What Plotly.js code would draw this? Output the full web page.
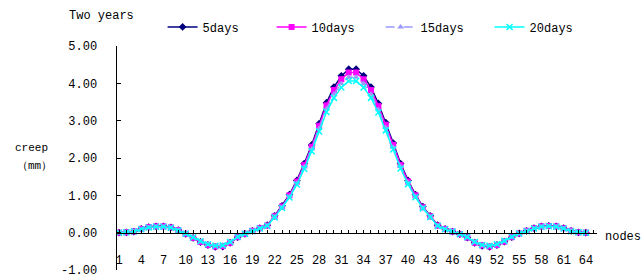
<!DOCTYPE html>
<html>
<head>
<meta charset="utf-8">
<script src="https://cdn.plot.ly/plotly-3.0.1.min.js"></script>
<style>
html,body{margin:0;padding:0;background:#fff;}
#chart{width:643px;height:280px;}
</style>
</head>
<body>
<div id="chart"></div>
<script>
const nodes = [1,2,3,4,5,6,7,8,9,10,11,12,13,14,15,16,17,18,19,20,21,22,23,24,25,26,27,28,29,30,31,32,
  33,34,35,36,37,38,39,40,41,42,43,44,45,46,47,48,49,50,51,52,53,54,55,56,57,58,59,60,61,62,63,64];
const tickNodes = [1,4,7,10,13,16,19,22,25,28,31,34,37,40,43,46,49,52,55,58,61,64];
const tickLabels = ["1","4","7","10","13","16","19","22","25","28","31","34","37","40","43","46","49","52","55","58","61","64"];
const yTickVals = [-1,0,1,2,3,4,5];
const yTickLabels = ["-1.00","0.00","1.00","2.00","3.00","4.00","5.00"];

const days5 = [0.00,0.01,0.03,0.10,0.15,0.17,0.17,0.14,0.07,-0.03,-0.14,-0.25,-0.33,-0.38,-0.37,-0.27,
  -0.12,-0.03,0.05,0.12,0.20,0.45,0.72,1.02,1.40,1.85,2.35,2.92,3.48,3.90,4.20,4.38,
  4.38,4.20,3.90,3.46,2.95,2.40,1.85,1.40,1.02,0.70,0.45,0.20,0.10,0.03,-0.04,-0.13,
  -0.27,-0.35,-0.38,-0.33,-0.24,-0.12,-0.02,0.05,0.12,0.17,0.18,0.17,0.12,0.05,0.01,0.00];
const days10 = [0.00,0.01,0.03,0.10,0.15,0.17,0.17,0.14,0.07,-0.03,-0.14,-0.25,-0.33,-0.37,-0.36,-0.27,
  -0.12,-0.03,0.05,0.12,0.19,0.44,0.70,1.00,1.37,1.81,2.30,2.86,3.41,3.82,4.11,4.29,
  4.29,4.11,3.82,3.39,2.89,2.35,1.81,1.37,1.00,0.68,0.44,0.19,0.10,0.03,-0.04,-0.13,
  -0.27,-0.34,-0.37,-0.33,-0.24,-0.12,-0.02,0.05,0.12,0.17,0.18,0.17,0.12,0.05,0.01,0.00];
const days15 = [0.00,0.01,0.03,0.09,0.14,0.16,0.16,0.13,0.07,-0.03,-0.13,-0.24,-0.32,-0.36,-0.35,-0.26,
  -0.12,-0.03,0.05,0.11,0.19,0.43,0.68,0.97,1.33,1.76,2.24,2.79,3.32,3.71,3.99,4.16,
  4.16,3.99,3.71,3.30,2.82,2.29,1.77,1.34,0.97,0.67,0.43,0.19,0.09,0.03,-0.04,-0.12,
  -0.26,-0.34,-0.36,-0.32,-0.23,-0.12,-0.02,0.05,0.11,0.16,0.17,0.16,0.11,0.05,0.01,0.00];
const days20 = [0.00,0.01,0.03,0.09,0.14,0.16,0.16,0.13,0.06,-0.03,-0.13,-0.23,-0.31,-0.35,-0.34,-0.25,
  -0.11,-0.03,0.04,0.11,0.18,0.41,0.66,0.94,1.29,1.71,2.18,2.71,3.23,3.61,3.89,4.06,
  4.06,3.89,3.61,3.22,2.74,2.23,1.72,1.30,0.95,0.65,0.42,0.18,0.09,0.03,-0.04,-0.12,
  -0.25,-0.33,-0.35,-0.31,-0.22,-0.11,-0.02,0.04,0.11,0.16,0.17,0.16,0.11,0.04,0.01,0.00];

const seriesNames = ["5days","10days","15days","20days"];
const FONT = "Liberation Mono, DejaVu Sans Mono, monospace";

const traces = [
  {x:nodes, y:days5, name:seriesNames[0], mode:"lines+markers",
   line:{color:"#000080", width:1.5}, marker:{symbol:"diamond", size:6, color:"#000080"}},
  {x:nodes, y:days10, name:seriesNames[1], mode:"lines+markers",
   line:{color:"#FF00FF", width:1.5}, marker:{symbol:"square", size:6, color:"#FF00FF"}},
  {x:nodes, y:days15, name:seriesNames[2], mode:"lines+markers",
   line:{color:"#9999FF", width:1.5, dash:"dash"}, marker:{symbol:"triangle-up", size:6, color:"#9999FF"}},
  {x:nodes, y:days20, name:seriesNames[3], mode:"lines+markers",
   line:{color:"#00FFFF", width:1.5}, marker:{symbol:"x-thin-open", size:6, color:"#00FFFF", line:{width:1.5, color:"#00FFFF"}}},
  {x:[null], y:[null], xaxis:"x2", showlegend:false, hoverinfo:"skip", mode:"lines"}
];

const xr = [0.73, 65.5];
const layout = {
  width:643, height:280,
  margin:{l:117, r:46, t:46, b:10},
  paper_bgcolor:"#fff", plot_bgcolor:"#fff",
  font:{family:FONT, size:12, color:"#000"},
  showlegend:true,
  legend:{orientation:"h", x:0.095, xanchor:"left", y:1.085, yanchor:"middle",
    font:{family:FONT, size:12, color:"#000"}, entrywidth:64, entrywidthmode:"pixels",
    bgcolor:"rgba(0,0,0,0)"},
  xaxis:{range:xr, anchor:"free", position:0.085, showline:false, zeroline:false, showgrid:false,
    ticks:"", tickmode:"array", tickvals:tickNodes, ticktext:tickLabels,
    tickfont:{family:FONT, size:12, color:"#000"}},
  xaxis2:{range:xr, overlaying:"x", anchor:"free", position:1/6, showline:true, linecolor:"#000", linewidth:1.5,
    zeroline:false, showgrid:false, ticks:"inside", ticklen:3, tickwidth:1, tickcolor:"#000",
    tickmode:"linear", tick0:1, dtick:1, showticklabels:false},
  yaxis:{range:[-1,5], showline:true, linecolor:"#000", linewidth:1.5, zeroline:false, showgrid:false,
    ticks:"inside", ticklen:4, tickwidth:1, tickcolor:"#000", tickmode:"array",
    tickvals:yTickVals, ticktext:yTickLabels, ticklabelstandoff:16,
    tickfont:{family:FONT, size:12, color:"#000"}},
  annotations:[
    {text:"Two years", xref:"paper", yref:"paper", x:(67-117)/480, y:1+(46-16)/224,
     xanchor:"left", yanchor:"middle", showarrow:false, font:{family:FONT, size:12, color:"#000"}},
    {text:"creep", xref:"paper", yref:"paper", x:(13-117)/480, y:(270-148)/224,
     xanchor:"left", yanchor:"middle", showarrow:false, font:{family:FONT, size:11, color:"#000"}},
    {text:"（mm）", xref:"paper", yref:"paper", x:(15-117)/480, y:(270-166)/224,
     xanchor:"left", yanchor:"middle", showarrow:false, font:{family:FONT, size:11, color:"#000"}},
    {text:"nodes", xref:"paper", yref:"paper", x:(603-117)/480, y:(270-237)/224,
     xanchor:"left", yanchor:"middle", showarrow:false, font:{family:FONT, size:12, color:"#000"}}
  ]
};

Plotly.newPlot("chart", traces, layout, {displayModeBar:false, staticPlot:true});
</script>
</body>
</html>
